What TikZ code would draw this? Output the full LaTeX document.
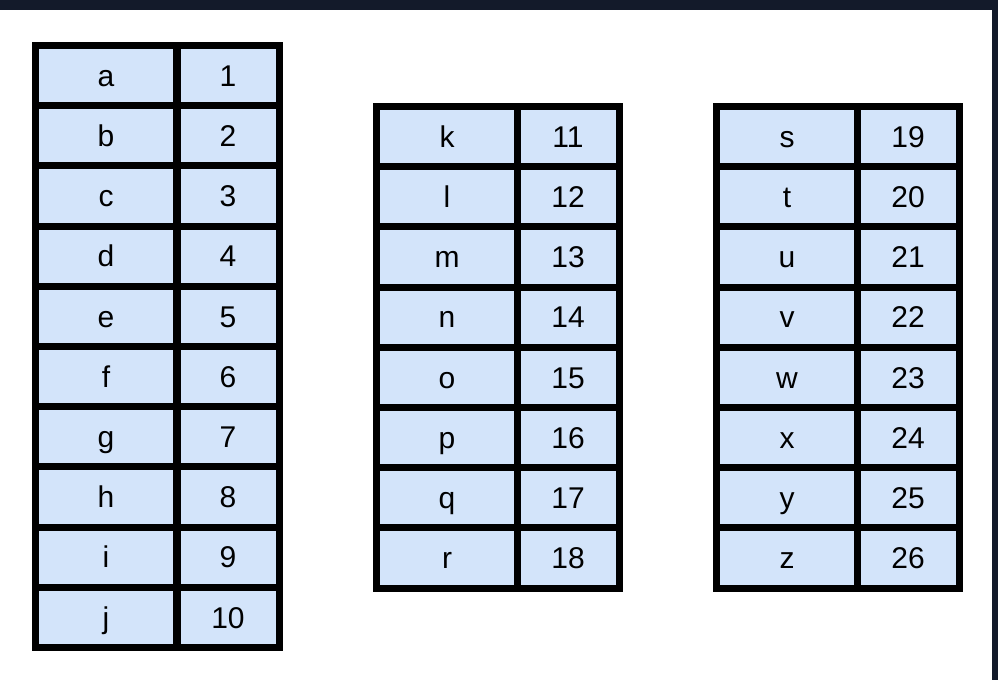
\documentclass[tikz,border=0pt]{standalone}
\usepackage{fontspec}
\setmainfont{Liberation Sans}
\usepackage{xcolor}
\definecolor{framedark}{HTML}{131A2A}
\definecolor{cellblue}{HTML}{D3E4FA}

\tikzset{
  cell/.style={draw=black, line width=7pt, fill=cellblue, inner sep=0pt,
    minimum height=60.2pt, text height=21.5pt, text depth=0pt,
    font=\fontsize{30}{33}\selectfont},
  keycell/.style={cell, minimum width=141pt},
  valcell/.style={cell, minimum width=102pt}
}

\begin{document}
\begin{tikzpicture}[x=1pt, y=-1pt]
    \useasboundingbox (0,0) rectangle (998,680);
    \fill[white] (0,0) rectangle (998,680);
    \fill[framedark] (0,0) rectangle (998,10);
    \fill[framedark] (992,0) rectangle (998,680);
    % first table
    \node[keycell] (a) at (106,75.6) {a};
    \node[keycell] (b) at (106,135.8) {b};
    \node[keycell] (c) at (106,196.0) {c};
    \node[keycell] (d) at (106,256.2) {d};
    \node[keycell] (e) at (106,316.4) {e};
    \node[keycell] (f) at (106,376.6) {f};
    \node[keycell] (g) at (106,436.8) {g};
    \node[keycell] (h) at (106,497.0) {h};
    \node[keycell] (i) at (106,557.2) {i};
    \node[keycell] (j) at (106,617.4) {j};
    \node[valcell] (n1) at (228,75.6) {1};
    \node[valcell] (n2) at (228,135.8) {2};
    \node[valcell] (n3) at (228,196.0) {3};
    \node[valcell] (n4) at (228,256.2) {4};
    \node[valcell] (n5) at (228,316.4) {5};
    \node[valcell] (n6) at (228,376.6) {6};
    \node[valcell] (n7) at (228,436.8) {7};
    \node[valcell] (n8) at (228,497.0) {8};
    \node[valcell] (n9) at (228,557.2) {9};
    \node[valcell] (n10) at (228,617.4) {10};
    % second table
    \node[keycell] (k) at (447,136.6) {k};
    \node[keycell] (l) at (447,196.8) {l};
    \node[keycell] (m) at (447,257.0) {m};
    \node[keycell] (n) at (447,317.2) {n};
    \node[keycell] (o) at (447,377.4) {o};
    \node[keycell] (p) at (447,437.6) {p};
    \node[keycell] (q) at (447,497.8) {q};
    \node[keycell] (r) at (447,558.0) {r};
    \node[valcell] (n11) at (568,136.6) {11};
    \node[valcell] (n12) at (568,196.8) {12};
    \node[valcell] (n13) at (568,257.0) {13};
    \node[valcell] (n14) at (568,317.2) {14};
    \node[valcell] (n15) at (568,377.4) {15};
    \node[valcell] (n16) at (568,437.6) {16};
    \node[valcell] (n17) at (568,497.8) {17};
    \node[valcell] (n18) at (568,558.0) {18};
    % third table
    \node[keycell] (s) at (787,136.6) {s};
    \node[keycell] (t) at (787,196.8) {t};
    \node[keycell] (u) at (787,257.0) {u};
    \node[keycell] (v) at (787,317.2) {v};
    \node[keycell] (w) at (787,377.4) {w};
    \node[keycell] (x) at (787,437.6) {x};
    \node[keycell] (y) at (787,497.8) {y};
    \node[keycell] (z) at (787,558.0) {z};
    \node[valcell] (n19) at (908,136.6) {19};
    \node[valcell] (n20) at (908,196.8) {20};
    \node[valcell] (n21) at (908,257.0) {21};
    \node[valcell] (n22) at (908,317.2) {22};
    \node[valcell] (n23) at (908,377.4) {23};
    \node[valcell] (n24) at (908,437.6) {24};
    \node[valcell] (n25) at (908,497.8) {25};
    \node[valcell] (n26) at (908,558.0) {26};
\end{tikzpicture}
\end{document}
